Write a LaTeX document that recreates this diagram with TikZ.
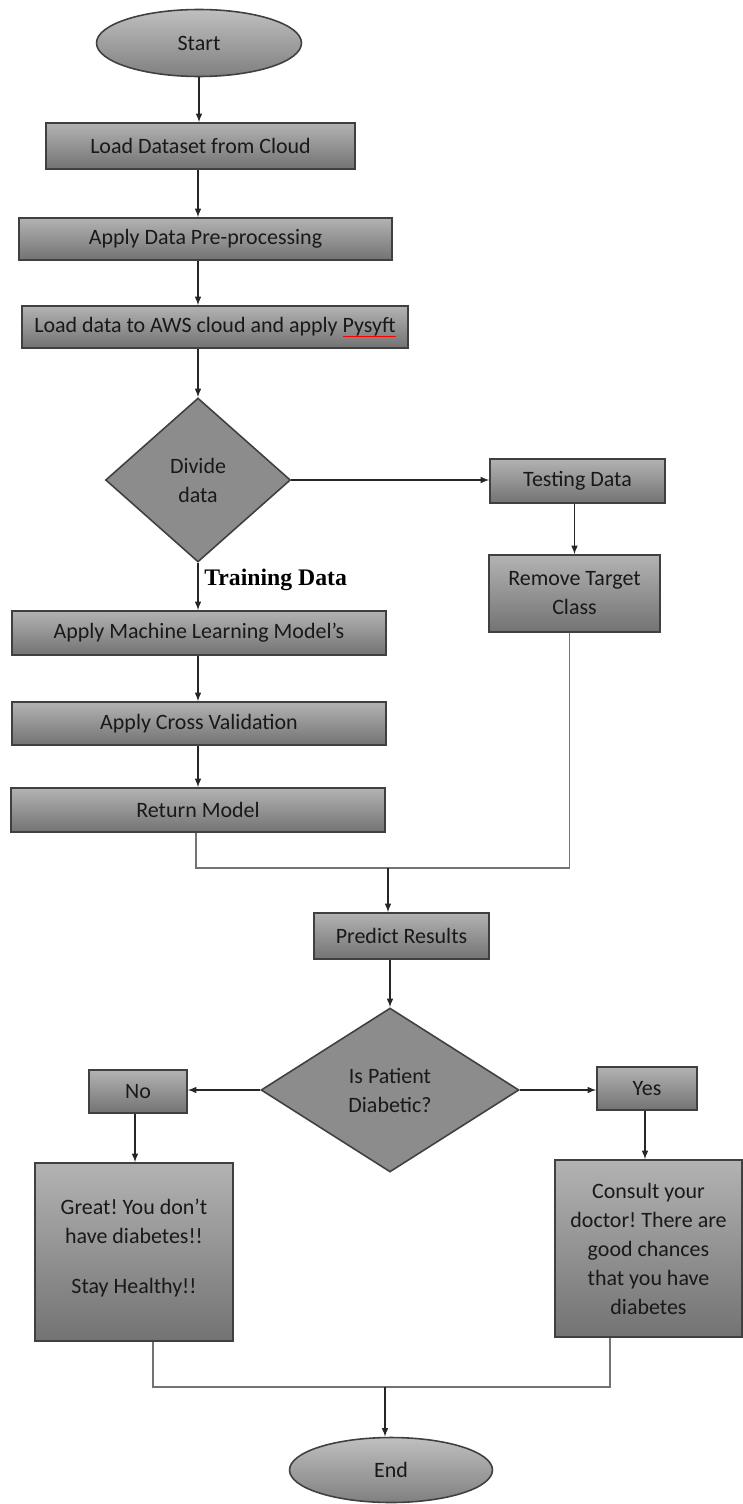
\documentclass[tikz,border=0pt]{standalone}
\usepackage{fontspec}
\usepackage{tikz}
\usetikzlibrary{shapes.geometric}
\setmainfont{Carlito}
\newfontfamily\trainfont{Liberation Serif}
\frenchspacing
\newsavebox{\spellbox}
\newcommand{\spellerr}[1]{\sbox{\spellbox}{#1}\rlap{\textcolor{red}{\rule[-0.45ex]{\wd\spellbox}{0.6pt}}}\usebox{\spellbox}}
\tikzstyle{process}=[rectangle, draw=black!75, line width=0.9pt, top color=black!30, bottom color=black!55, text=black!90, font=\fontsize{12.5}{16.5}\selectfont, align=center, inner sep=2pt]
\tikzstyle{decision}=[diamond, draw=black!75, line width=0.9pt, fill=black!45, text=black!90, font=\fontsize{12.5}{16.5}\selectfont, align=center, inner sep=0pt]
\tikzstyle{terminal}=[ellipse, draw=black!75, line width=0.9pt, top color=black!25, bottom color=black!50, text=black!90, font=\fontsize{12.5}{16.5}\selectfont, inner sep=0pt]
\tikzstyle{flow}=[-latex, draw=black!85, line width=0.7pt]
\tikzstyle{mergeline}=[draw=black!55, line width=1pt]

\begin{document}
\begin{tikzpicture}[x=0.02cm, y=-0.02cm]
\useasboundingbox (0,0) rectangle (743,1504);

\node[terminal, minimum width=4.1cm, minimum height=1.34cm] (start) at (199, 43) {Start};
\node[process, minimum width=6.18cm, minimum height=0.92cm] (load) at (200.5, 146) {Load Dataset from Cloud};
\node[process, minimum width=7.46cm, minimum height=0.84cm] (prep) at (205.5, 239) {Apply Data Pre-processing};
\node[process, minimum width=7.72cm, minimum height=0.84cm] (aws) at (215, 327) {Load data to AWS cloud and apply \spellerr{Pysyft}};
\node[decision, minimum width=3.7cm, minimum height=3.28cm] (divide) at (198, 480) {Divide\\data};

\node[process, minimum width=3.5cm, minimum height=0.88cm] (testing) at (577.5, 481) {Testing Data};
\node[process, minimum width=3.42cm, minimum height=1.54cm] (removecls) at (574.5, 593.5) {Remove Target\\Class};

\node[font=\trainfont\bfseries\fontsize{13.5}{15}\selectfont, anchor=west, inner sep=0pt] (trainlbl) at (204, 580) {Training Data};
\node[process, minimum width=7.48cm, minimum height=0.88cm] (model) at (199, 633) {Apply Machine Learning Model’s};
\node[process, minimum width=7.48cm, minimum height=0.86cm] (crossval) at (199, 723.5) {Apply Cross Validation};
\node[process, minimum width=7.48cm, minimum height=0.88cm] (retmodel) at (198, 810) {Return Model};

\coordinate (merge1) at (388, 868);
\node[process, minimum width=3.5cm, minimum height=0.92cm] (predict) at (401.5, 936) {Predict Results};
\node[decision, minimum width=5.16cm, minimum height=3.28cm] (diabetic) at (390, 1090) {Is Patient\\Diabetic?};

\node[process, minimum width=1.96cm, minimum height=0.86cm] (no) at (138, 1091.5) {No};
\node[process, minimum width=2.0cm, minimum height=0.86cm] (yes) at (647, 1088.5) {Yes};
\node[process, minimum width=3.96cm, minimum height=3.56cm] (great) at (134, 1252) {Great! You don’t\\have diabetes!!\\[12pt]Stay Healthy!!\\[-10pt]\mbox{}};
\node[process, minimum width=3.74cm, minimum height=3.54cm] (consult) at (648.5, 1248.5) {Consult your\\doctor! There are\\good chances\\that you have\\diabetes};

\coordinate (merge2) at (385, 1387);
\node[terminal, minimum width=4.06cm, minimum height=1.3cm] (finish) at (391, 1470) {End};

% main column
\draw[flow] (start) -- (start |- load.north);
\draw[flow] (load.south -| divide) -- (prep.north -| divide);
\draw[flow] (prep.south -| divide) -- (aws.north -| divide);
\draw[flow] (aws.south -| divide) -- (divide);
\draw[flow] (divide) -- (divide |- model.north);
\draw[flow] (model.south -| divide) -- (crossval.north -| divide);
\draw[flow] (crossval.south -| divide) -- (retmodel.north -| divide);

% testing branch
\draw[flow] (divide.east) -- (divide.east -| testing.west);
\draw[flow] (testing.south -| removecls) -- (removecls);

% merge into prediction
\draw[mergeline] ([xshift=-0.04cm]retmodel.south) |- (merge1) -| ([xshift=-0.1cm]removecls.south);
\draw[flow] (merge1) -- (merge1 |- predict.north);
\draw[flow] (predict.south -| diabetic) -- (diabetic);

% outcome
\draw[flow] (diabetic.west) -- (diabetic.west -| no.east);
\draw[flow] (diabetic.east) -- (diabetic.east -| yes.west);
\draw[flow] (no.south -| 135,0) -- (great.north -| 135,0);
\draw[flow] (yes.south -| 645,0) -- (consult.north -| 645,0);
\draw[mergeline] ([xshift=0.38cm]great.south) |- (merge2) -| ([xshift=-0.77cm]consult.south);
\draw[flow] (merge2) -- (merge2 |- finish.north);
\end{tikzpicture}
\end{document}
